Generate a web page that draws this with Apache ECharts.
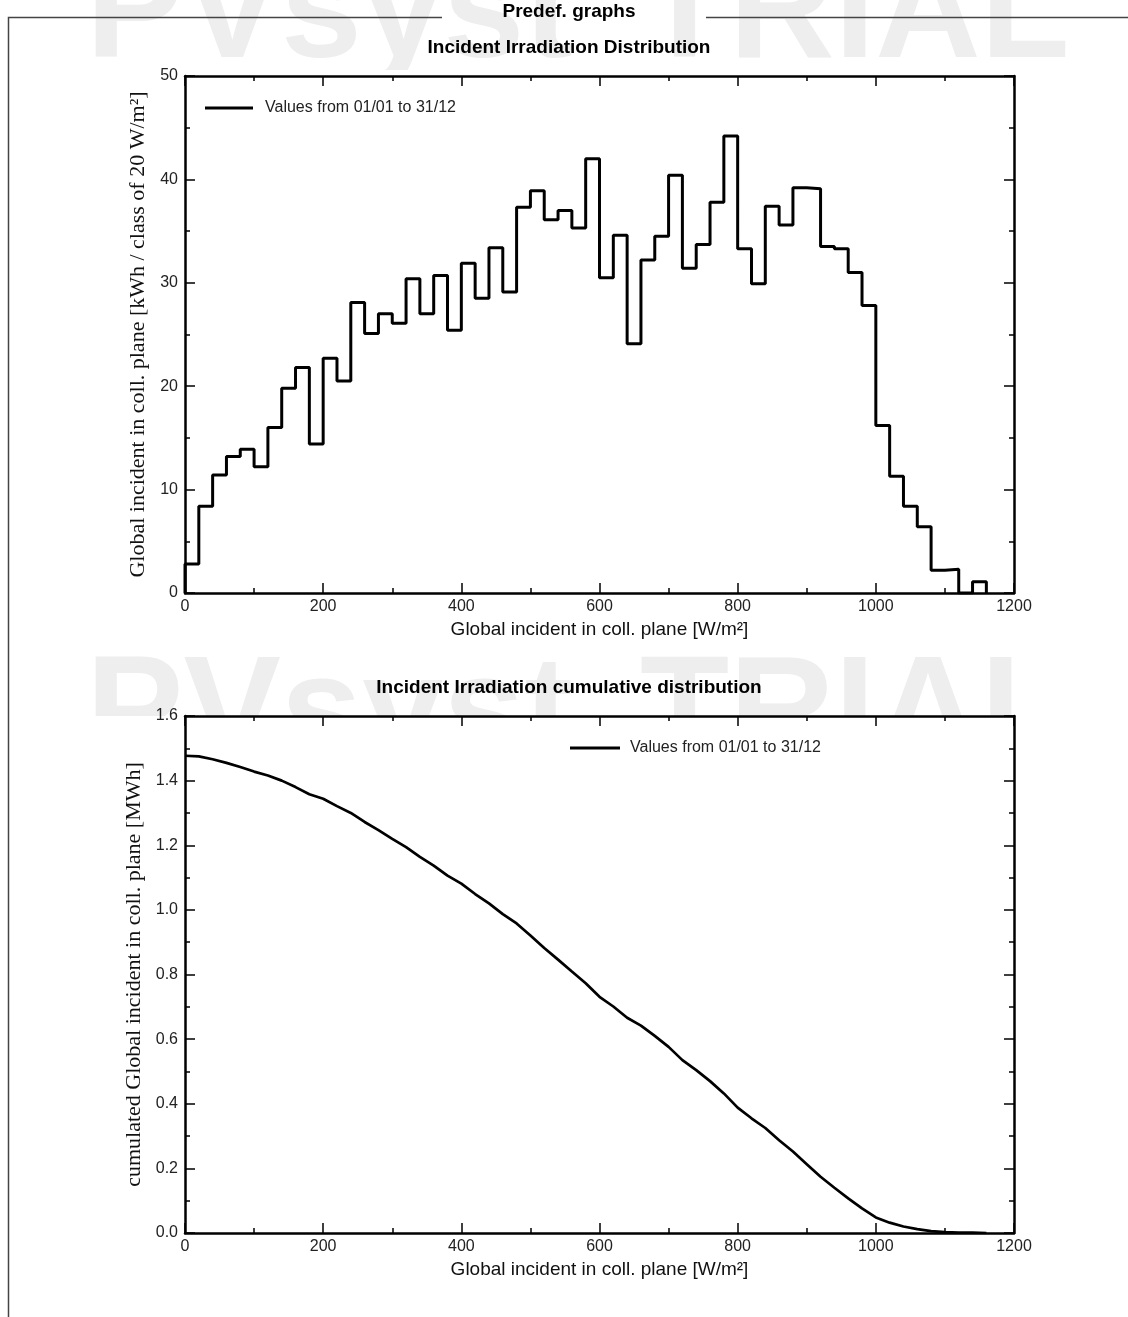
<!DOCTYPE html>
<html>
<head>
<meta charset="utf-8">
<script src="https://cdn.jsdelivr.net/npm/echarts@6/dist/echarts.min.js"></script>
<style>
html,body{margin:0;padding:0;background:#fff;}
#chart{width:1128px;height:1317px;}
</style>
</head>
<body>
<div id="chart"></div>
<script>
// ---- Data ----
const seriesName = 'Values from 01/01 to 31/12';

// Histogram: start of each 20 W/m² class and energy in kWh per class
const binEdges = [0,20,40,60,80,100,120,140,160,180,
  200,220,240,260,280,300,320,340,360,380,
  400,420,440,460,480,500,520,540,560,580,
  600,620,640,660,680,700,720,740,760,780,
  800,820,840,860,880,900,920,940,960,980,
  1000,1020,1040,1060,1080,1100,1120,1140];
const histValues = [2.8,8.4,11.4,13.2,13.9,12.2,16.0,19.8,21.8,14.4,
  22.7,20.5,28.1,25.1,27.0,26.1,30.4,27.0,30.7,25.4,
  31.9,28.5,33.4,29.1,37.3,38.9,36.1,37.0,35.3,42.0,
  30.5,34.6,24.1,32.2,34.5,40.4,31.4,33.7,37.8,44.2,
  33.3,29.9,37.4,35.6,39.2,39.1,33.5,33.3,31.0,27.8,
  16.2,11.3,8.4,6.4,2.2,2.3,0,1.1];
const histEnd = 1160;

// Cumulative distribution (MWh) at irradiance levels
const cumX = [0,20,40,60,80,100,120,140,160,180,
  200,220,240,260,280,300,320,340,360,380,
  400,420,440,460,480,500,520,540,560,580,
  600,620,640,660,680,700,720,740,760,780,
  800,820,840,860,880,900,920,940,960,980,
  1000,1020,1040,1060,1080,1100,1120,1140,1160];
const cumValues = [1.477,1.475,1.466,1.455,1.442,1.428,1.416,1.400,1.380,1.358,
  1.344,1.321,1.300,1.272,1.247,1.220,1.194,1.164,1.137,1.106,
  1.081,1.049,1.020,0.987,0.958,0.921,0.882,0.846,0.809,0.773,
  0.731,0.701,0.666,0.642,0.610,0.576,0.535,0.504,0.470,0.432,
  0.388,0.355,0.325,0.287,0.252,0.213,0.174,0.140,0.107,0.076,
  0.048,0.032,0.020,0.012,0.006,0.003,0.001,0.001,0.000];

// ---- Build series data ----
const histData = [[binEdges[0], 0]];
binEdges.forEach((e, i) => histData.push([e, histValues[i]]));
histData.push([histEnd, 0]);
const cumData = cumX.map((x, i) => [x, cumValues[i]]);

const sans = '"Liberation Sans", Arial, sans-serif';
const serif = '"Liberation Serif", "Times New Roman", serif';
const ink = '#111';

function xAxisDef(gridIndex, position, showLabel, name) {
  return {
    type: 'value', gridIndex, position, min: 0, max: 1200, interval: 200,
    name: name || '', nameLocation: 'middle', nameGap: 27,
    nameTextStyle: {fontFamily: sans, fontSize: 19, color: ink},
    axisLine: {show: true, onZero: false, lineStyle: {color: '#000', width: 2.5}},
    axisTick: {show: true, inside: true, length: 10, lineStyle: {color: '#000', width: 1.5}},
    minorTick: {show: true, splitNumber: 2, length: 5, lineStyle: {color: '#000', width: 1.5}},
    axisLabel: {show: showLabel, fontFamily: sans, fontSize: 16, color: '#222', margin: 6,
      formatter: v => String(v)},
    splitLine: {show: false}, minorSplitLine: {show: false}
  };
}
function yAxisDef(gridIndex, position, showLabel, max, interval, name, nameGap, fmt) {
  return {
    type: 'value', gridIndex, position, min: 0, max, interval,
    name: name || '', nameLocation: 'middle', nameGap: nameGap || 40, nameRotate: 90,
    nameTextStyle: {fontFamily: serif, fontSize: 22, color: ink},
    axisLine: {show: true, onZero: false, lineStyle: {color: '#000', width: 2.5}},
    axisTick: {show: true, inside: true, length: 10, lineStyle: {color: '#000', width: 1.5}},
    minorTick: {show: true, splitNumber: 2, length: 5, lineStyle: {color: '#000', width: 1.5}},
    axisLabel: {show: showLabel, fontFamily: sans, fontSize: 16, color: '#222', margin: 7,
      formatter: fmt || (v => String(v))},
    splitLine: {show: false}, minorSplitLine: {show: false}
  };
}

function wm(text, x, y) {
  return {type: 'text', x, y, z: -10, silent: true,
    style: {font: 'bold 146px ' + sans, fill: '#eeeeee', text,
      textAlign: 'left', textVerticalAlign: 'top', align: 'left', verticalAlign: 'top'}};
}
function title(text, y) {
  return {type: 'text', x: 569, y, z: 5, silent: true,
    style: {text, font: 'bold 19px ' + sans, fill: '#000',
      textAlign: 'center', textVerticalAlign: 'middle', align: 'center', verticalAlign: 'middle'}};
}

const option = {
  backgroundColor: '#fff',
  animation: false,
  graphic: [
    wm('PVsyst', 86, -56), wm('TRIAL', 640, -56),
    wm('PVsyst', 86, 645), wm('TRIAL', 640, 645),
    {type: 'rect', z: -5, silent: true, shape: {x: 0, y: 70, width: 1128, height: 572}, style: {fill: '#fff'}},
    {type: 'rect', z: -5, silent: true, shape: {x: 0, y: 716, width: 1128, height: 601}, style: {fill: '#fff'}},
    {type: 'polyline', z: 5, silent: true, shape: {points: [[442, 17.5], [8.5, 17.5], [8.5, 1317]]},
      style: {stroke: '#444', lineWidth: 1.5, fill: null}},
    {type: 'line', z: 5, silent: true, shape: {x1: 706, y1: 17.5, x2: 1128, y2: 17.5},
      style: {stroke: '#444', lineWidth: 1.5}},
    title('Predef. graphs', 12),
    title('Incident Irradiation Distribution', 48),
    title('Incident Irradiation cumulative distribution', 688)
  ],
  legend: [
    {left: 205, top: 100, padding: 0, data: [seriesName], icon: 'rect', itemWidth: 48, itemHeight: 3,
      selectedMode: false, textStyle: {fontFamily: sans, fontSize: 16, color: '#222', padding: [0, 0, 0, 7]}},
    {left: 570, top: 740, padding: 0, data: [seriesName], icon: 'rect', itemWidth: 50, itemHeight: 3,
      selectedMode: false, textStyle: {fontFamily: sans, fontSize: 16, color: '#222', padding: [0, 0, 0, 5]}}
  ],
  grid: [
    {left: 185, top: 76, width: 829, height: 517, show: true, backgroundColor: '#fff', borderWidth: 0},
    {left: 185, top: 716, width: 829, height: 517, show: true, backgroundColor: '#fff', borderWidth: 0}
  ],
  xAxis: [
    xAxisDef(0, 'bottom', true, 'Global incident in coll. plane [W/m²]'),
    xAxisDef(0, 'top', false),
    xAxisDef(1, 'bottom', true, 'Global incident in coll. plane [W/m²]'),
    xAxisDef(1, 'top', false)
  ],
  yAxis: [
    yAxisDef(0, 'left', true, 50, 10, 'Global incident in coll. plane [kWh / class of 20 W/m²]', 34),
    yAxisDef(0, 'right', false, 50, 10),
    yAxisDef(1, 'left', true, 1.6, 0.2, 'cumulated Global incident in coll. plane [MWh]', 39, v => v.toFixed(1)),
    yAxisDef(1, 'right', false, 1.6, 0.2)
  ],
  series: [
    {name: seriesName, type: 'line', xAxisIndex: 0, yAxisIndex: 0, step: 'end', data: histData,
      showSymbol: false, symbol: 'none', lineStyle: {color: '#000', width: 3}, itemStyle: {color: '#000'}},
    {name: seriesName, type: 'line', xAxisIndex: 2, yAxisIndex: 2, data: cumData,
      showSymbol: false, symbol: 'none', lineStyle: {color: '#000', width: 2.7}, itemStyle: {color: '#000'}}
  ]
};

const chart = echarts.init(document.getElementById('chart'), null, {renderer: 'canvas'});
chart.setOption(option);
</script>
</body>
</html>
